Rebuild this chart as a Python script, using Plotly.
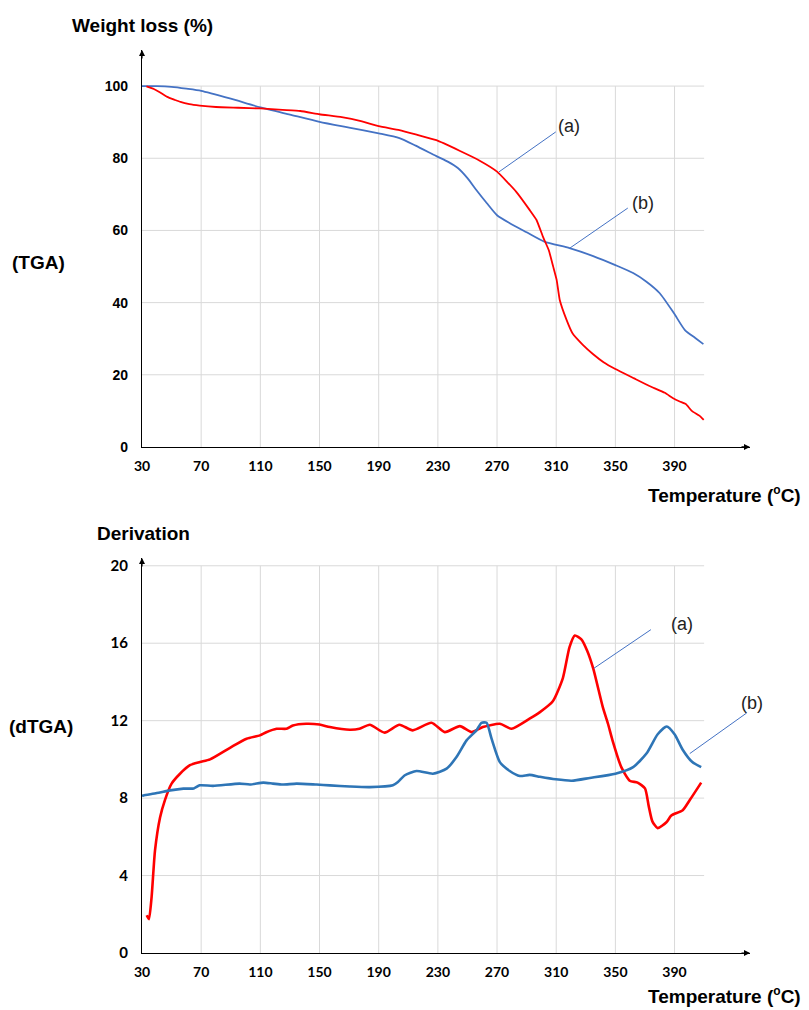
import plotly.graph_objects as go

# ---------------- data ----------------
temp_tga_b = [30, 40, 50, 60, 70, 90, 110, 130, 150, 170, 190, 204, 215, 229, 237, 243.5, 250, 256,
              263, 270, 278.6, 290, 302, 319, 335, 350, 362, 371, 380, 389.5, 397, 404, 409.5]
tga_b = [100, 100, 99.8, 99.3, 98.7, 96.5, 94.1, 92.1, 90.1, 88.5, 86.9, 85.6, 83.5, 80.6, 79, 77.3,
         74.5, 71.2, 67.6, 64.2, 62, 59.5, 56.9, 55.1, 52.9, 50.4, 48.2, 45.8, 42.6, 37.1, 32.4, 30.2, 28.5]

temp_tga_a = [33, 38, 42, 47, 52, 56, 62, 69, 80, 95, 110, 125, 137, 150, 165, 178, 190, 204, 215, 229,
              245, 258, 270, 283, 292, 296.7, 301, 305, 308, 310.3, 312.4, 317, 321, 328, 335, 342,
              350, 362.7, 373, 383.4, 389, 393.5, 397.6, 401.6, 407, 409.7]
tga_a = [99.9, 99.2, 98.3, 97, 96.2, 95.6, 95, 94.6, 94.2, 94.0, 93.8, 93.4, 93.1, 92.2, 91.4, 90.3,
         88.9, 87.8, 86.6, 85, 82, 79.4, 76.3, 70.7, 65.7, 62.9, 58.3, 54.5, 49.9, 46.3, 40.7, 35.2,
         31.5, 28.3, 25.7, 23.5, 21.6, 19.0, 16.9, 15.0, 13.5, 12.6, 11.9, 10.0, 8.6, 7.5]

temp_dtga_a = [33.2, 34.7, 36.5, 38.8, 42.2, 45.5, 50, 55.7, 62.4, 69.2, 76, 89.5, 100.7, 109.7, 114, 121,
               127.7, 132, 141, 150, 157, 170.5, 177, 184, 194, 204, 213, 225.7, 234.7, 244.9, 252.8,
               260.4, 271.9, 279.8, 292, 299, 307.7, 314.5, 319, 322.6, 327, 331, 335, 341.5, 345, 348,
               354, 359.7, 365, 370, 372.5, 375, 378.6, 384.5, 387.8, 395.5, 400.3, 408]
dtga_a = [1.95, 1.75, 2.9, 5.3, 7.0, 7.9, 8.75, 9.26, 9.7, 9.86, 10.0, 10.6, 11.07, 11.24, 11.4, 11.58,
          11.58, 11.75, 11.84, 11.8, 11.67, 11.53, 11.58, 11.79, 11.38, 11.79, 11.5, 11.89, 11.41, 11.72,
          11.41, 11.67, 11.84, 11.58, 12.1, 12.44, 13.0, 14.2, 15.8, 16.4, 16.2, 15.6, 14.7, 12.7, 11.84,
          11.0, 9.6, 8.9, 8.8, 8.5, 7.6, 6.8, 6.45, 6.75, 7.1, 7.37, 7.9, 8.8]

temp_dtga_b = [30, 31, 40, 49, 58, 65, 69, 78, 96, 103, 112, 118.5, 125, 134.5, 148, 157, 170.5, 184,
               199.6, 203, 207.7, 215.6, 226.6, 235.9, 242.6, 249.4, 256.1, 259.5, 262.9, 266.3, 271.9,
               278.6, 285.4, 292, 299, 309.7, 320.5, 332.7, 350, 362, 371, 378.6, 384.7, 390, 395.5,
               402, 408]
dtga_b = [8.12, 8.14, 8.26, 8.4, 8.49, 8.5, 8.66, 8.63, 8.75, 8.7, 8.8, 8.75, 8.7, 8.75, 8.7, 8.66, 8.6,
          8.57, 8.66, 8.83, 9.18, 9.4, 9.26, 9.52, 10.12, 10.98, 11.5, 11.89, 11.89, 11.07, 9.86, 9.4,
          9.14, 9.2, 9.1, 8.97, 8.9, 9.04, 9.26, 9.6, 10.3, 11.3, 11.7, 11.3, 10.5, 9.86, 9.6]

x_ticks = [30, 70, 110, 150, 190, 230, 270, 310, 350, 390]
tga_ticks = [0, 20, 40, 60, 80, 100]
dtga_ticks = [0, 4, 8, 12, 16, 20]

X_MAX = 441
GRID_END = 410
TGA_MAX = 110
DTGA_MAX = 20.4

# ---------------- figure ----------------
RED = "#FF0000"
BLUE_TOP = "#4472C4"
BLUE_BOT = "#2E75B6"
GRID = "#D9D9D9"
ARIAL = "Liberation Sans, Arial, sans-serif"
CAL = "Lato, Liberation Sans, sans-serif"

fig = go.Figure()
fig.add_trace(go.Scatter(x=temp_tga_b, y=tga_b, mode="lines", xaxis="x", yaxis="y",
                         line=dict(color=BLUE_TOP, width=1.8, shape="spline", smoothing=0.6),
                         name="(b)", showlegend=False))
fig.add_trace(go.Scatter(x=temp_tga_a, y=tga_a, mode="lines", xaxis="x", yaxis="y",
                         line=dict(color=RED, width=1.8, shape="spline", smoothing=0.4),
                         name="(a)", showlegend=False))
fig.add_trace(go.Scatter(x=temp_dtga_a, y=dtga_a, mode="lines", xaxis="x2", yaxis="y2",
                         line=dict(color=RED, width=2.6, shape="spline", smoothing=0.6),
                         name="(a)", showlegend=False))
fig.add_trace(go.Scatter(x=temp_dtga_b, y=dtga_b, mode="lines", xaxis="x2", yaxis="y2",
                         line=dict(color=BLUE_BOT, width=2.6, shape="spline", smoothing=0.6),
                         name="(b)", showlegend=False))

shapes = []
for xr, yr, yt, ymax in (("x", "y", tga_ticks, tga_ticks[-1]), ("x2", "y2", dtga_ticks, dtga_ticks[-1])):
    for t in x_ticks[1:]:
        shapes.append(dict(type="line", xref=xr, yref=yr, x0=t, x1=t, y0=0, y1=ymax,
                           line=dict(color=GRID, width=1), layer="below"))
    for v in yt[1:]:
        shapes.append(dict(type="line", xref=xr, yref=yr, x0=x_ticks[0], x1=GRID_END, y0=v, y1=v,
                           line=dict(color=GRID, width=1), layer="below"))

# leader lines for (a) / (b)
leaders = [("x", "y", 271.2, 76.2, 309.7, 87.3), ("x", "y", 319.2, 55.1, 358.4, 66.2),
           ("x2", "y2", 335.4, 14.7, 374.0, 16.7), ("x2", "y2", 400.3, 10.3, 438.8, 12.4)]
for xr, yr, x0, y0, x1, y1 in leaders:
    shapes.append(dict(type="line", xref=xr, yref=yr, x0=x0, y0=y0, x1=x1, y1=y1,
                       line=dict(color=BLUE_TOP, width=1)))

annotations = []
# axis arrowheads
for xr, yr, ymax in (("x", "y", TGA_MAX), ("x2", "y2", DTGA_MAX)):
    annotations.append(dict(xref=xr, yref=yr, x=X_MAX, y=0, ax=-10, ay=0, axref="pixel", ayref="pixel",
                            text="", showarrow=True, arrowhead=2, arrowsize=1, arrowwidth=1.2,
                            arrowcolor="black", standoff=0))
    annotations.append(dict(xref=xr, yref=yr, x=30, y=ymax, ax=0, ay=10, axref="pixel", ayref="pixel",
                            text="", showarrow=True, arrowhead=2, arrowsize=1, arrowwidth=1.2,
                            arrowcolor="black", standoff=0))

lab_font = dict(family=ARIAL, size=18, color="#222222")
annotations += [
    dict(xref="x", yref="y", x=318.5, y=88.9, text="(a)", showarrow=False, font=lab_font),
    dict(xref="x", yref="y", x=369, y=67.6, text="(b)", showarrow=False, font=lab_font),
    dict(xref="x2", yref="y2", x=395, y=17.0, text="(a)", showarrow=False, font=lab_font),
    dict(xref="paper", yref="paper", x=1.0247, y=0.2636, text="(b)", showarrow=False, font=lab_font),
]

tfont = dict(family=ARIAL, size=19, color="black", weight="bold")
temp_title = "Temperature (<sup><span style='font-size:12px'>o</span></sup>C)"
annotations += [
    dict(xref="paper", yref="paper", x=-0.1184, y=1.0266, xanchor="left", yanchor="middle",
         text="Weight loss (%)", showarrow=False, font=tfont),
    dict(xref="paper", yref="paper", x=-0.2171, y=0.7652, xanchor="left", yanchor="middle",
         text="(TGA)", showarrow=False, font=tfont),
    dict(xref="paper", yref="paper", x=1.087, y=0.5072, xanchor="right", yanchor="middle",
         text=temp_title, showarrow=False, font=tfont),
    dict(xref="paper", yref="paper", x=-0.0773, y=0.4651, xanchor="left", yanchor="middle",
         text="Derivation", showarrow=False, font=tfont),
    dict(xref="paper", yref="paper", x=-0.222, y=0.2503, xanchor="left", yanchor="middle",
         text="(dTGA)", showarrow=False, font=tfont),
    dict(xref="paper", yref="paper", x=1.087, y=-0.047, xanchor="right", yanchor="middle",
         text=temp_title, showarrow=False, font=tfont),
]

xcommon = dict(range=[30, X_MAX], tickvals=x_ticks, showgrid=False, zeroline=False,
               showline=True, linecolor="black", linewidth=1.2, ticks="outside", ticklen=6,
               tickcolor="rgba(0,0,0,0)", tickfont=dict(family=CAL, size=14, color="black", weight="bold"))
ycommon = dict(showgrid=False, zeroline=False, showline=True, linecolor="black", linewidth=1.2,
               ticks="outside", ticklen=10, tickcolor="rgba(0,0,0,0)")

# the page body adds an 8 px margin, so the figure is sized to fit the window
fig.update_layout(
    width=801, height=1002,
    margin=dict(l=134, r=59, t=42, b=57),
    paper_bgcolor="white", plot_bgcolor="white",
    xaxis=dict(anchor="y", **xcommon),
    yaxis=dict(anchor="x", domain=[0.5604, 1.0], range=[0, TGA_MAX], tickvals=tga_ticks,
               tickfont=dict(family=ARIAL, size=14, color="black", weight="bold"), **ycommon),
    xaxis2=dict(anchor="y2", **xcommon),
    yaxis2=dict(anchor="x2", domain=[0.0, 0.4374], range=[0, DTGA_MAX], tickvals=dtga_ticks,
                tickfont=dict(family=CAL, size=15, color="black", weight="bold"), **ycommon),
    shapes=shapes, annotations=annotations,
)

fig.write_html("out.html")
